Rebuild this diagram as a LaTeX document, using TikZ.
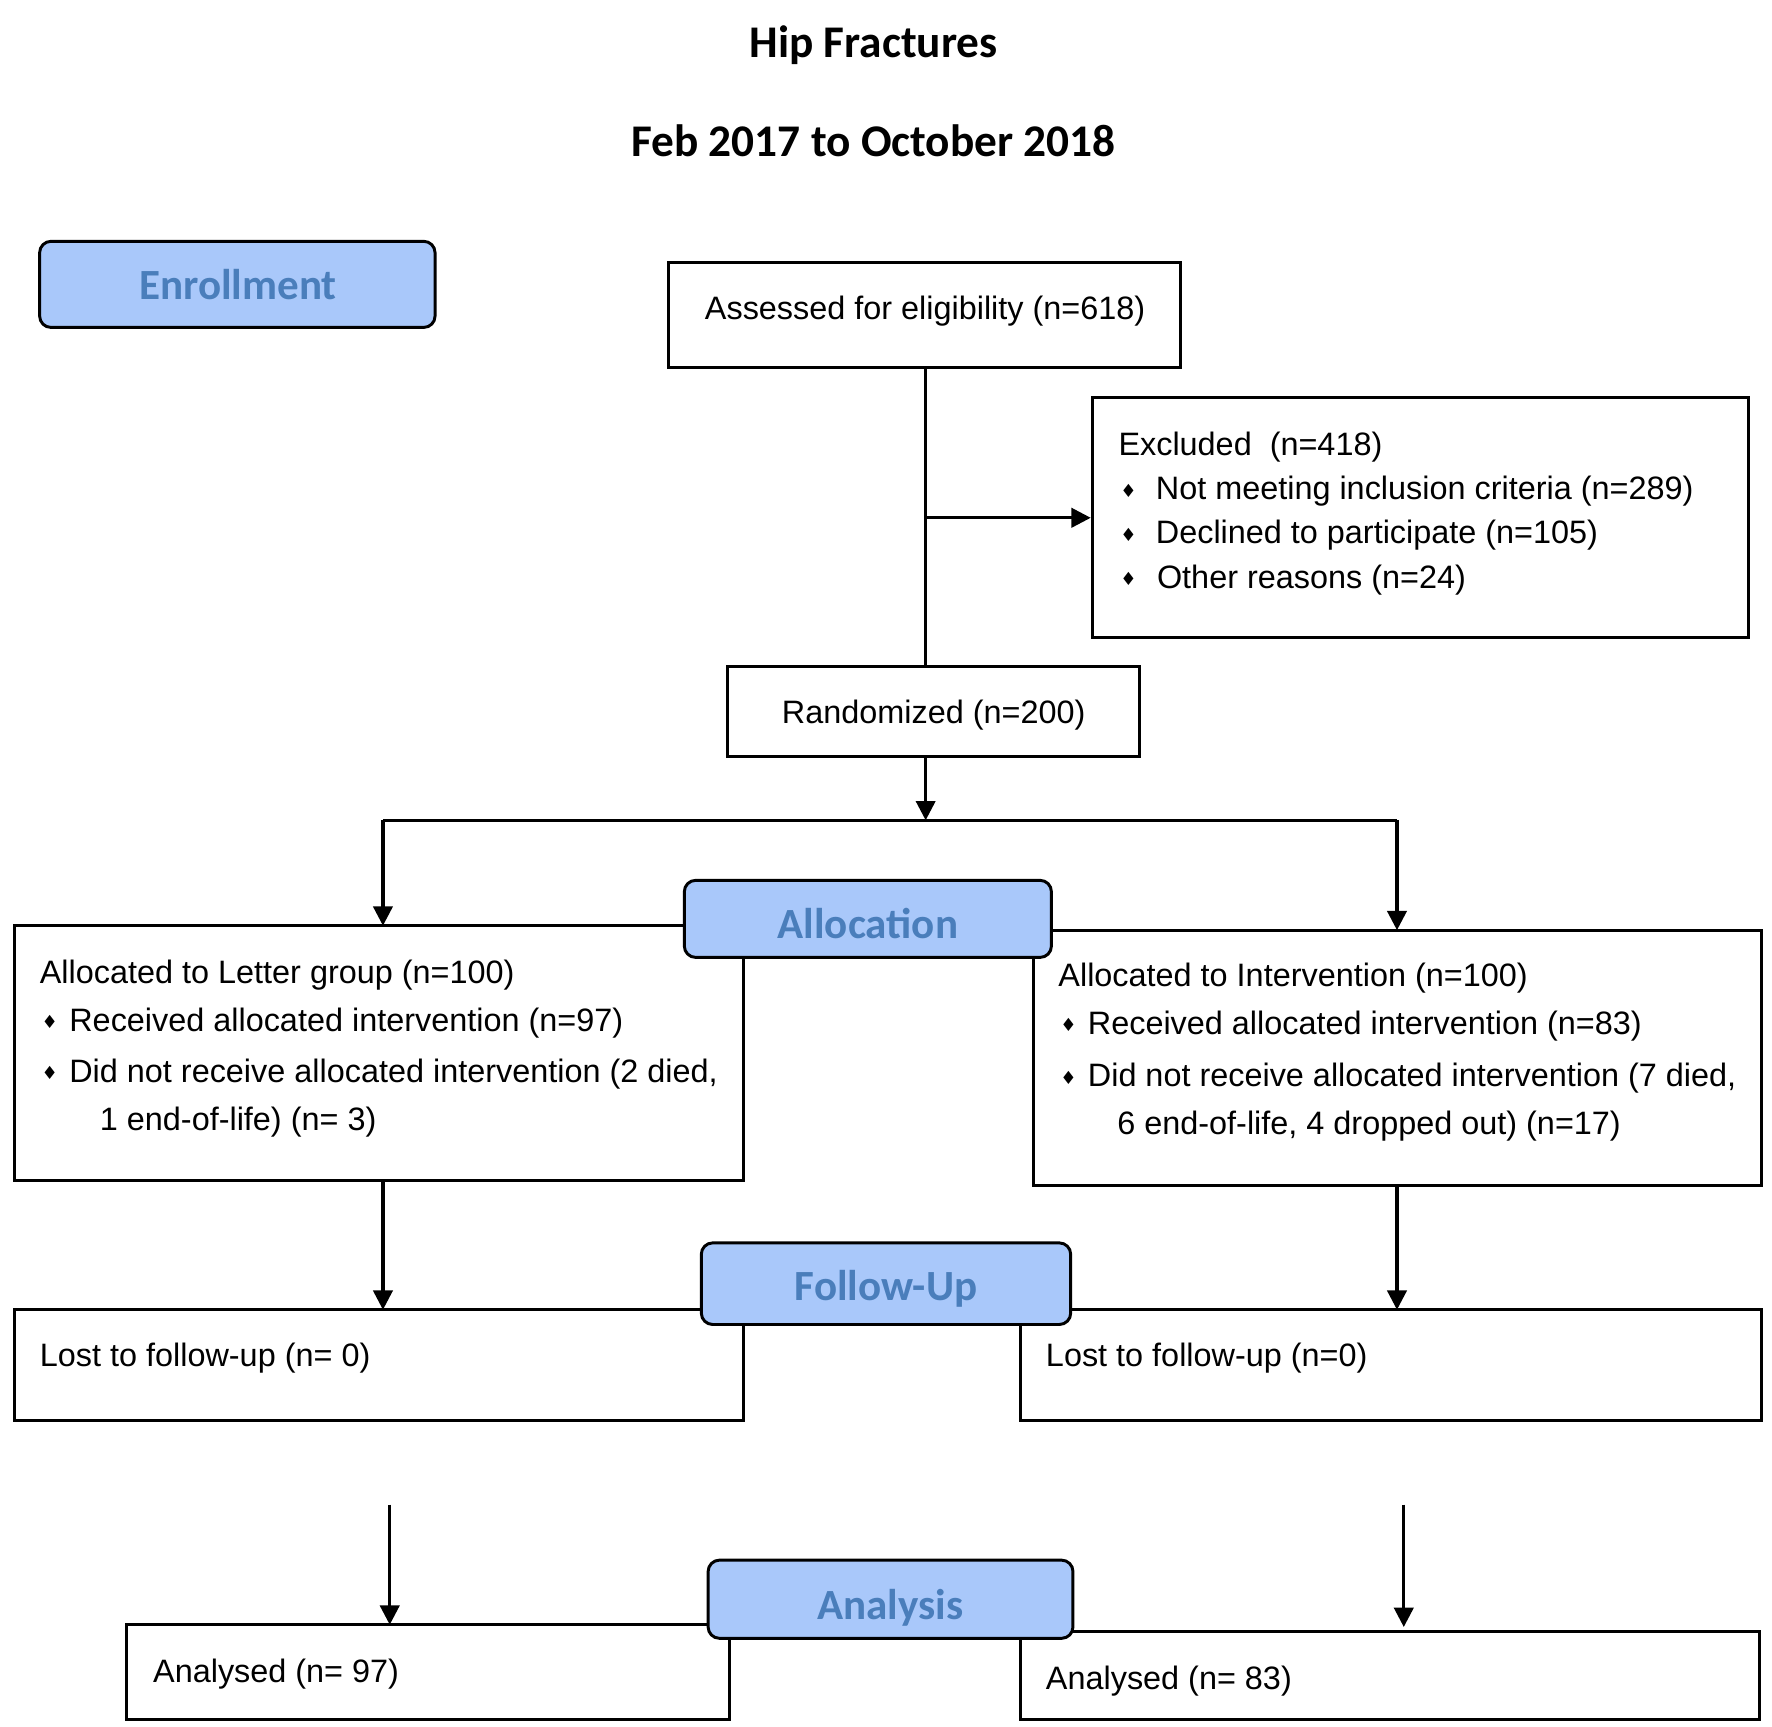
\documentclass[tikz,border=0pt]{standalone}
\usepackage{fontspec}
\setmainfont{Liberation Sans}
\newfontfamily\calib{Carlito}
\newfontfamily\symf{DejaVu Sans}
\usetikzlibrary{arrows.meta}
\definecolor{lblfill}{HTML}{A9C8FA}
\definecolor{lbltext}{HTML}{4A7EBB}
\tikzset{
 box/.style={draw, line width=2.6pt, inner sep=0pt, fill=white},
 lbl/.style={draw, line width=2.6pt, rounded corners=10pt, fill=lblfill, inner sep=0pt},
 lbltxt/.style={font=\calib\bfseries\fontsize{38}{40}\selectfont, text=lbltext, inner sep=0pt, anchor=base},
 ttl/.style={font=\calib\bfseries\fontsize{40}{44}\selectfont, inner sep=0pt, anchor=base},
 txt/.style={font=\fontsize{28.6}{34}\selectfont, inner sep=0pt, anchor=base west},
 bul/.style={font=\symf\fontsize{16}{16}\selectfont, inner sep=0pt, anchor=center},
 arr/.style={line width=2.8pt, -{Triangle[length=17pt,width=17pt]}},
 ln/.style={line width=2.8pt},
}
\begin{document}
\begin{tikzpicture}[x=1pt,y=-1pt]
\useasboundingbox[fill=white] (0,0) rectangle (1564,1524);
% titles
\node[ttl] (t1) at (771,51) {Hip Fractures};
\node[ttl] (t2) at (771,138) {Feb 2017 to October 2018};
% boxes
\node[box, minimum width=452pt, minimum height=92pt] (assess) at (816,278) {};
\node[box, minimum width=579pt, minimum height=212pt] (excl) at (1253.5,457) {};
\node[box, minimum width=364pt, minimum height=80pt] (rand) at (824,628) {};
\node[box, minimum width=643pt, minimum height=225pt] (allocL) at (334.5,929.5) {};
\node[box, minimum width=643pt, minimum height=225pt] (allocR) at (1233.5,933.5) {};
\node[box, minimum width=643pt, minimum height=98pt] (lostL) at (334.5,1205) {};
\node[box, minimum width=654pt, minimum height=98pt] (lostR) at (1228,1205) {};
\node[box, minimum width=532pt, minimum height=84pt] (anaL) at (378,1476) {};
\node[box, minimum width=652pt, minimum height=78pt] (anaR) at (1227,1479) {};
% connectors
\coordinate (split) at (817,457);
\draw[ln] (817,324) coordinate (a1) -- (817,588) coordinate (a2);
\draw[arr] (split) -- (excl.west);
\coordinate (hbar) at (817,724);
\draw[arr] (817,668) coordinate (r1) -- (hbar);
\coordinate (hl) at (338,724);
\coordinate (hr) at (1233,724);
\draw[ln] (hl) -- (hr);
\draw[arr] (hl) -- (338,817) coordinate (alT);
\draw[arr] (hr) -- (1233,821) coordinate (arT);
\draw[arr] (338,1042) coordinate (alB) -- (338,1156) coordinate (llT);
\draw[arr] (1233,1046) coordinate (arB) -- (1233,1156) coordinate (lrT);
\coordinate (fl) at (344,1328);
\coordinate (fr) at (1239,1328);
\draw[arr] (fl) -- (344,1434) coordinate (anlT);
\draw[arr] (fr) -- (1239,1436) coordinate (anrT);
% label boxes
\node[lbl, minimum width=349pt, minimum height=76pt] (enr) at (209.5,251) {};
\node[lbl, minimum width=324pt, minimum height=68pt] (allo) at (766,811) {};
\node[lbl, minimum width=326pt, minimum height=72pt] (fol) at (782,1133) {};
\node[lbl, minimum width=322pt, minimum height=69pt] (anl) at (786,1411.5) {};
\node[lbltxt] (enrT) at (210,264) {Enrollment};
\node[lbltxt] (alloT) at (766,828) {Allocation};
\node[lbltxt] (folT) at (782,1148) {Follow-Up};
\node[lbltxt] (anlT) at (786,1429) {Analysis};
% texts
\node[txt] (assessT) at (622,282) {Assessed for eligibility (n=618)};
\node[txt] (randT) at (690,639) {Randomized (n=200)};
\node[txt] (ex1) at (987,402) {Excluded\ \ (n=418)};
\node[bul] (exb1) at (996,433) {♦};
\node[txt] (ex2) at (1020,441) {Not meeting inclusion criteria (n=289)};
\node[bul] (exb2) at (996,472) {♦};
\node[txt] (ex3) at (1020,480) {Declined to participate (n=105)};
\node[bul] (exb3) at (996,511) {♦};
\node[txt] (ex4) at (1021,519) {Other reasons (n=24)};
\node[txt] (al1) at (35,868) {Allocated to Letter group (n=100)};
\node[bul] (alb1) at (44,902) {♦};
\node[txt] (al2) at (61,910) {Received allocated intervention (n=97)};
\node[bul] (alb2) at (44,947) {♦};
\node[txt] (al3) at (61,955) {Did not receive allocated intervention (2 died,};
\node[txt] (al4) at (88,998) {1 end-of-life) (n= 3)};
\node[txt] (ar1) at (934,871) {Allocated to Intervention (n=100)};
\node[bul] (arb1) at (943,905) {♦};
\node[txt] (ar2) at (960,913) {Received allocated intervention (n=83)};
\node[bul] (arb2) at (943,951) {♦};
\node[txt] (ar3) at (960,959) {Did not receive allocated intervention (7 died,};
\node[txt] (ar4) at (986,1001) {6 end-of-life, 4 dropped out) (n=17)};
\node[txt] (l1) at (35,1206) {Lost to follow-up (n= 0)};
\node[txt] (l2) at (923,1206) {Lost to follow-up (n=0)};
\node[txt] (n1) at (135,1485) {Analysed (n= 97)};
\node[txt] (n2) at (923,1491) {Analysed (n= 83)};
\end{tikzpicture}
\end{document}
